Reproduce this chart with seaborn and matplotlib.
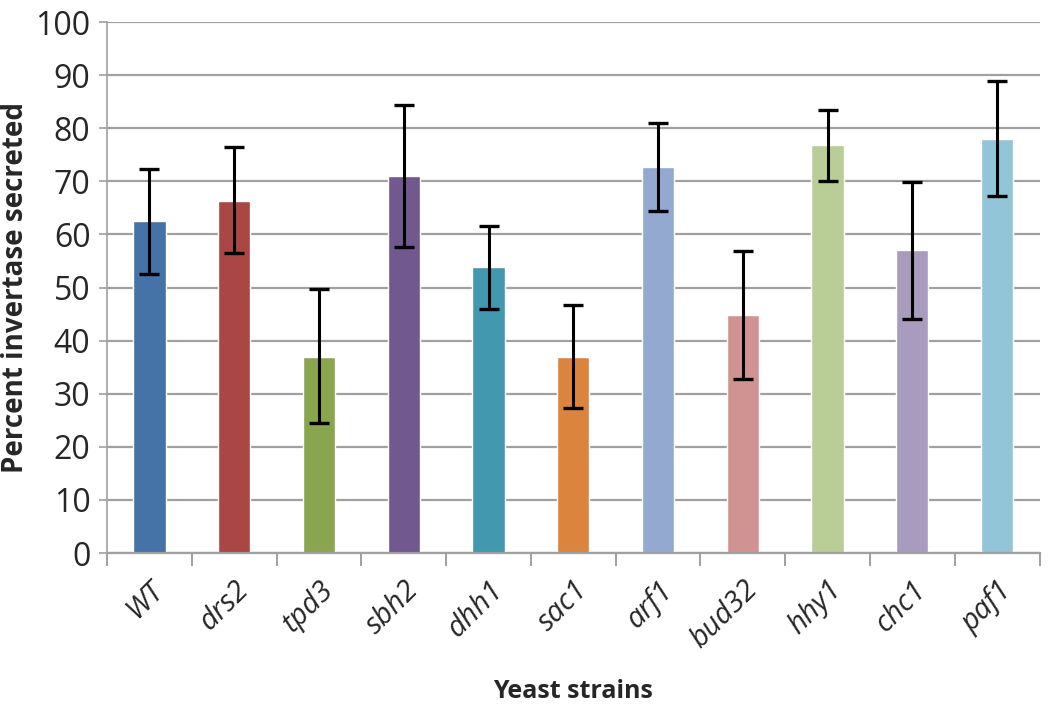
import numpy as np
import pandas as pd
import matplotlib
matplotlib.use("Agg")
import matplotlib.pyplot as plt
import seaborn as sns

# Data
strains = ["WT", "drs2", "tpd3", "sbh2", "dhh1", "sac1", "arf1", "bud32", "hhy1", "chc1", "paf1"]
percent_secreted = [62.5, 66.3, 37.0, 71.0, 53.8, 37.0, 72.7, 44.8, 76.8, 57.0, 78.0]
error_low = [52.5, 56.5, 24.5, 57.7, 46.0, 27.3, 64.4, 32.8, 70.1, 44.0, 67.2]
error_high = [72.3, 76.5, 49.7, 84.3, 61.6, 46.7, 81.0, 56.8, 83.4, 69.8, 88.8]
bar_colors = ["#4572A7", "#AA4643", "#89A54E", "#71588F", "#4198AF", "#DB843D",
              "#93A9CF", "#D19392", "#B9CD96", "#A99BBD", "#92C5D8"]

df = pd.DataFrame({"strain": strains, "pct": percent_secreted,
                   "lo": error_low, "hi": error_high})

sns.set_theme(style="white")
plt.rcParams["font.family"] = ["Open Sans", "DejaVu Sans"]

fig = plt.figure(figsize=(10.5, 7.22), dpi=100)
ax = fig.add_axes([0.102, 0.234, 0.888, 0.7355])

sns.barplot(data=df, x="strain", y="pct", hue="strain", palette=bar_colors,
            legend=False, width=0.38, saturation=1, ax=ax, zorder=2)

x = np.arange(len(strains))
ax.errorbar(x, df["pct"], yerr=[df["pct"] - df["lo"], df["hi"] - df["pct"]],
            fmt="none", ecolor="black", elinewidth=2.2, capsize=7, capthick=2.4, zorder=3)

ax.set_ylim(0, 100)
ax.set_xlim(-0.5, len(strains) - 0.5)
ax.set_yticks(range(0, 101, 10))
ax.yaxis.grid(True, color="#A0A0A0", linewidth=1.6, zorder=0)
ax.set_axisbelow(True)

for side in ["top", "right"]:
    ax.spines[side].set_visible(False)
ax.spines["left"].set_color("#A0A0A0")
ax.spines["bottom"].set_color("#A0A0A0")
ax.spines["left"].set_linewidth(1.2)
ax.spines["bottom"].set_linewidth(1.6)

# ticks at category boundaries on x, labels at bar centres
ax.set_xticks(np.arange(-0.5, len(strains), 1.0))
ax.set_xticklabels([])
ax.tick_params(axis="x", which="major", bottom=True, direction="out", length=9, width=1.4,
               color="#A0A0A0")
ax.set_xticks(x, minor=True)
ax.set_xticklabels(strains, minor=True, rotation=45, ha="right", rotation_mode="anchor",
                   fontstyle="italic", fontsize=21)
ax.tick_params(axis="x", which="minor", bottom=True, length=0, pad=16)
ax.tick_params(axis="y", left=True, direction="out", length=6, width=1.2, color="#A0A0A0",
               labelsize=23, pad=6)

ax.set_xlabel("Yeast strains", fontsize=18, fontweight="bold", labelpad=18)
ax.set_ylabel("Percent invertase secreted", fontsize=20, fontweight="bold", labelpad=4)

fig.savefig("out.png", dpi=100)
